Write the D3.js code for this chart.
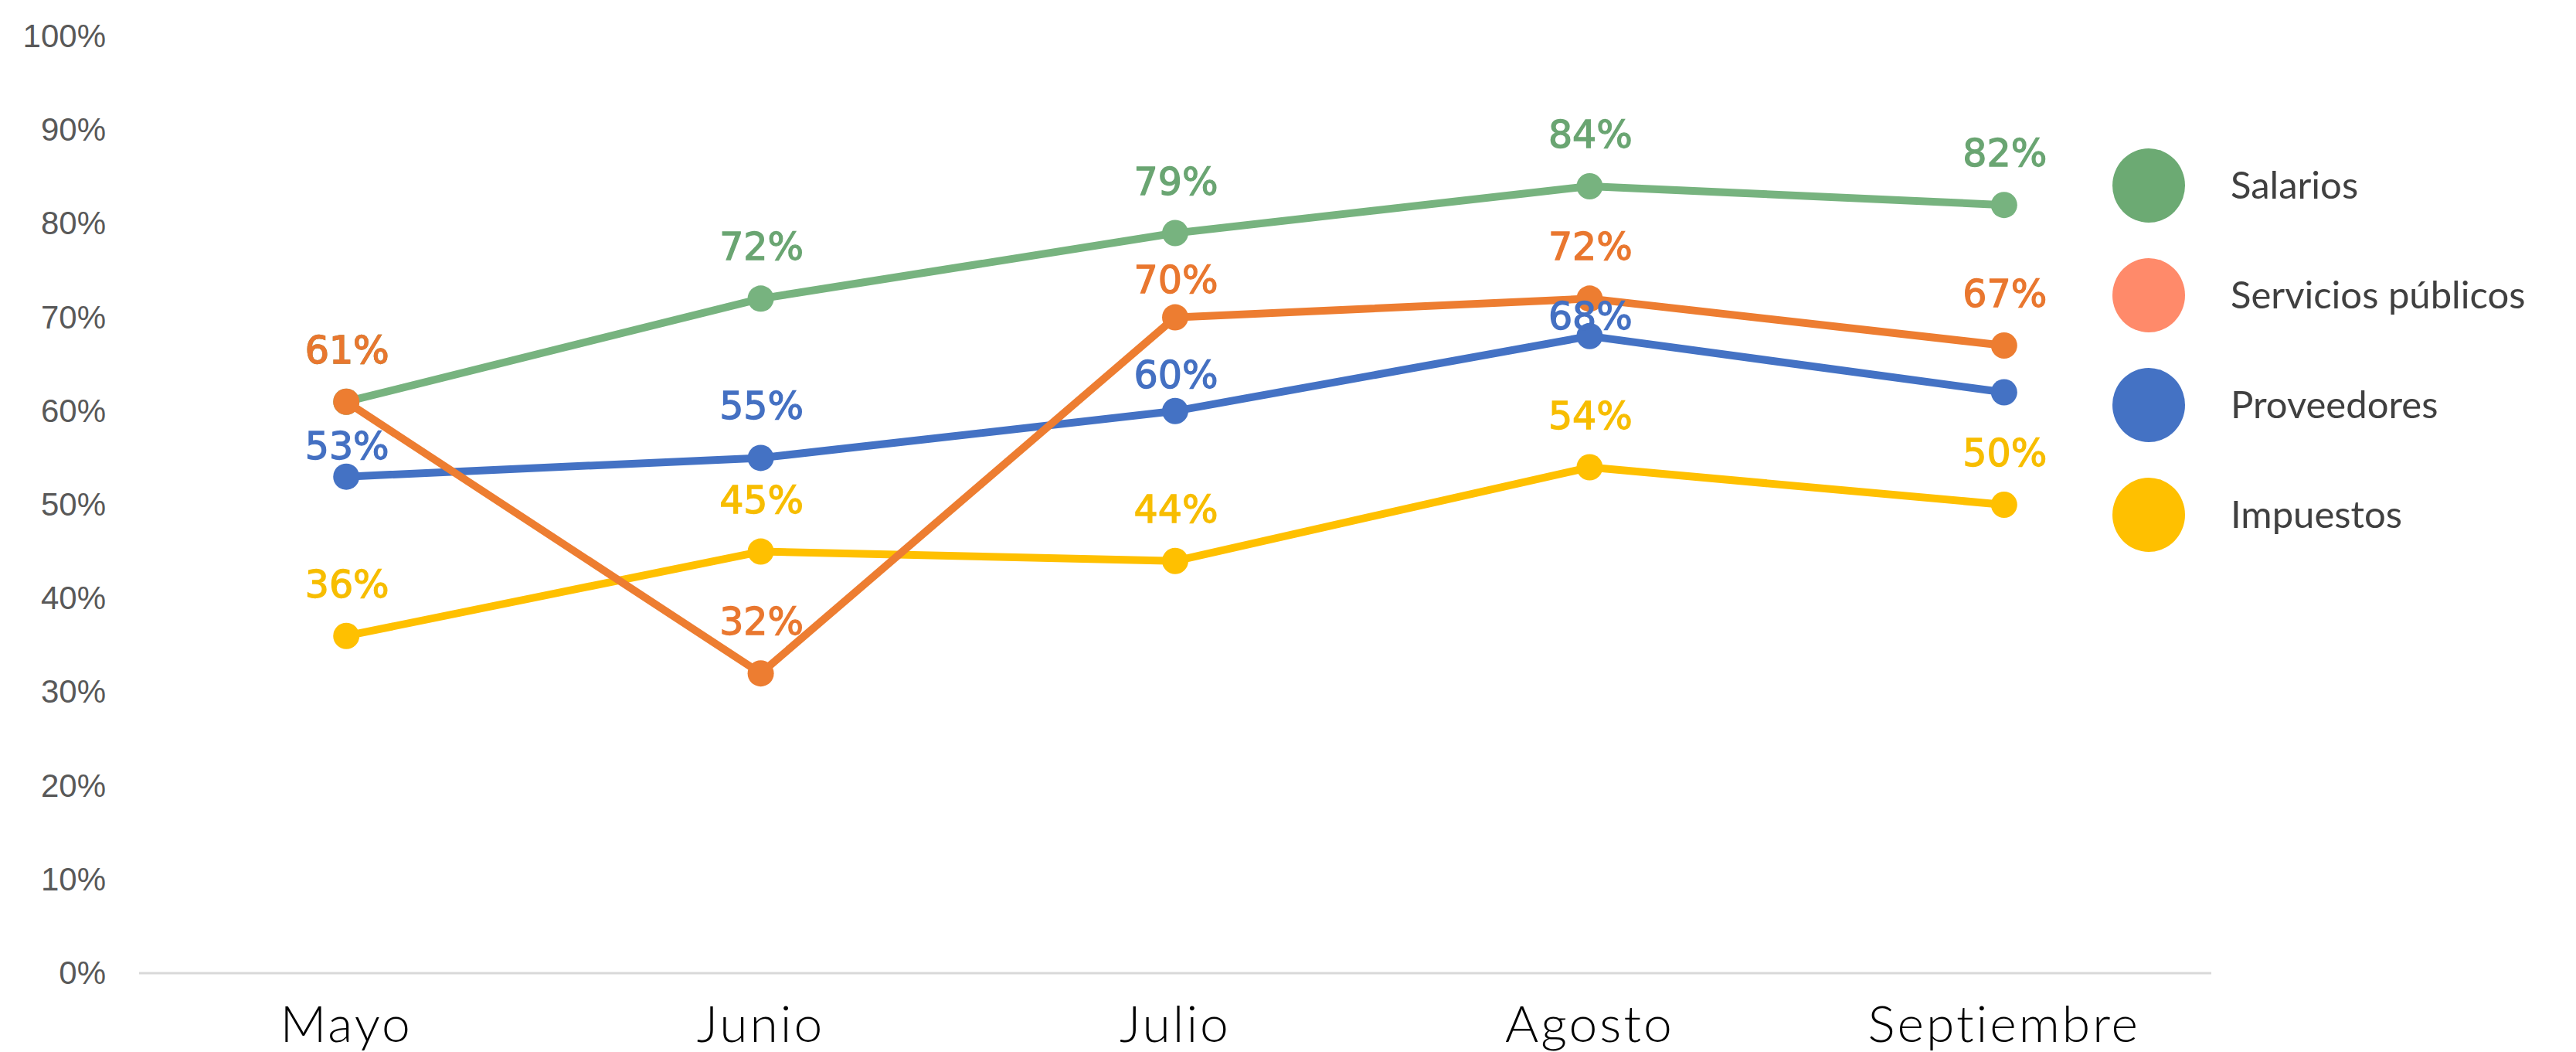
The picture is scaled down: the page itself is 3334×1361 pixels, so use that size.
<!DOCTYPE html>
<meta charset="utf-8">
<style>
body { margin: 0; background: #fff; }
.yaxis text { font-family: 'Liberation Sans', Arial, sans-serif; font-size: 42px; fill: #595959; }
.xlabel { font-family: 'Lato', sans-serif; font-weight: 300; font-size: 66px; fill: #000; letter-spacing: 3px; }
.dlabel { font-family: 'DejaVu Sans', sans-serif; font-size: 49px; stroke-width: 1.3px; }
.legend text { font-family: 'Lato', sans-serif; font-size: 49px; fill: #404040; }
</style>
<body>
<script src="https://d3js.org/d3.v7.min.js"></script>
<script>
var width = 3334,
    height = 1361;

// data
var months = ["Mayo", "Junio", "Julio", "Agosto", "Septiembre"];
var seriesNames = ["Salarios", "Servicios públicos", "Proveedores", "Impuestos"];
var salarios = [61, 72, 79, 84, 82];
var servicios = [61, 32, 70, 72, 67];
var proveedores = [53, 55, 60, 68, 62];
var impuestos = [36, 45, 44, 54, 50];
var yTicks = [0, 10, 20, 30, 40, 50, 60, 70, 80, 90, 100];

var lineColors = ["#77b37f", "#ed7d31", "#4472c4", "#ffc000"];
var labelColors = ["#6aa572", "#e9772f", "#4470c2", "#f7bd00"];
var legendColors = ["#6caa73", "#ff8a6a", "#4472c4", "#ffc000"];

// how far each label's baseline sits above its point (Excel nudged a few)
var defaultLift = 50;
var lift = { "2-0": 23, "1-2": 32, "2-2": 30, "2-3": 9 };
// the original chart shows no label for Proveedores in Septiembre
var hidden = { "2-4": true };

var series = [salarios, servicios, proveedores, impuestos].map((vals, i) => ({
  name: seriesNames[i], idx: i,
  values: vals.map((v, j) => ({ month: months[j], v: v, j: j }))
}));

var svg = d3.select("body").append("svg")
    .attr("width", width)
    .attr("height", height);

var x = d3.scalePoint().domain(months).range([180, 2862]).padding(0.5);
var y = d3.scaleLinear().domain([0, 100]).range([1259, 47]);

// y axis labels
svg.append("g")
    .attr("class", "yaxis")
    .attr("transform", "translate(180,0)")
    .call(d3.axisLeft(y).tickValues(yTicks).tickSize(0).tickPadding(43).tickFormat(d => d + "%"))
    .call(g => g.select(".domain").remove());

// baseline
svg.append("line")
    .attr("x1", 180).attr("x2", 2862)
    .attr("y1", y(0)).attr("y2", y(0))
    .attr("stroke", "#d9d9d9")
    .attr("stroke-width", 3);

// month labels
svg.selectAll(".xlabel")
  .data(months)
  .join("text")
    .attr("class", "xlabel")
    .attr("x", d => x(d))
    .attr("y", 1348)
    .attr("text-anchor", "middle")
    .text(d => d);

var line = d3.line().x(d => x(d.month)).y(d => y(d.v));

// draw order so orange ends on top like the original
var drawOrder = [3, 2, 0, 1];
drawOrder.forEach(i => {
  var s = series[i];
  var g = svg.append("g");
  g.append("path")
    .datum(s.values)
    .attr("fill", "none")
    .attr("stroke", lineColors[i])
    .attr("stroke-width", 10)
    .attr("stroke-linejoin", "round")
    .attr("d", line);
  g.selectAll("circle")
    .data(s.values)
    .join("circle")
      .attr("cx", d => x(d.month))
      .attr("cy", d => y(d.v))
      .attr("r", 17)
      .attr("fill", lineColors[i]);
});

// value labels
series.forEach(s => {
  svg.append("g").selectAll("text")
    .data(s.values.filter(d => !hidden[s.idx + "-" + d.j]))
    .join("text")
      .attr("class", "dlabel")
      .attr("x", d => x(d.month) + 1)
      .attr("y", d => y(d.v) - (lift[s.idx + "-" + d.j] || defaultLift))
      .attr("text-anchor", "middle")
      .attr("fill", labelColors[s.idx])
      .attr("stroke", labelColors[s.idx])
      .text(d => d.v + "%");
});

// legend
var legend = svg.append("g").attr("class", "legend");
var ly = d3.scalePoint().domain(seriesNames).range([240, 666]);
seriesNames.forEach((name, i) => {
  legend.append("ellipse")
    .attr("cx", 2781)
    .attr("cy", ly(name))
    .attr("rx", 47)
    .attr("ry", 48)
    .attr("fill", legendColors[i]);
  legend.append("text")
    .attr("x", 2887)
    .attr("y", ly(name))
    .attr("dy", "0.35em")
    .text(name);
});
</script>
